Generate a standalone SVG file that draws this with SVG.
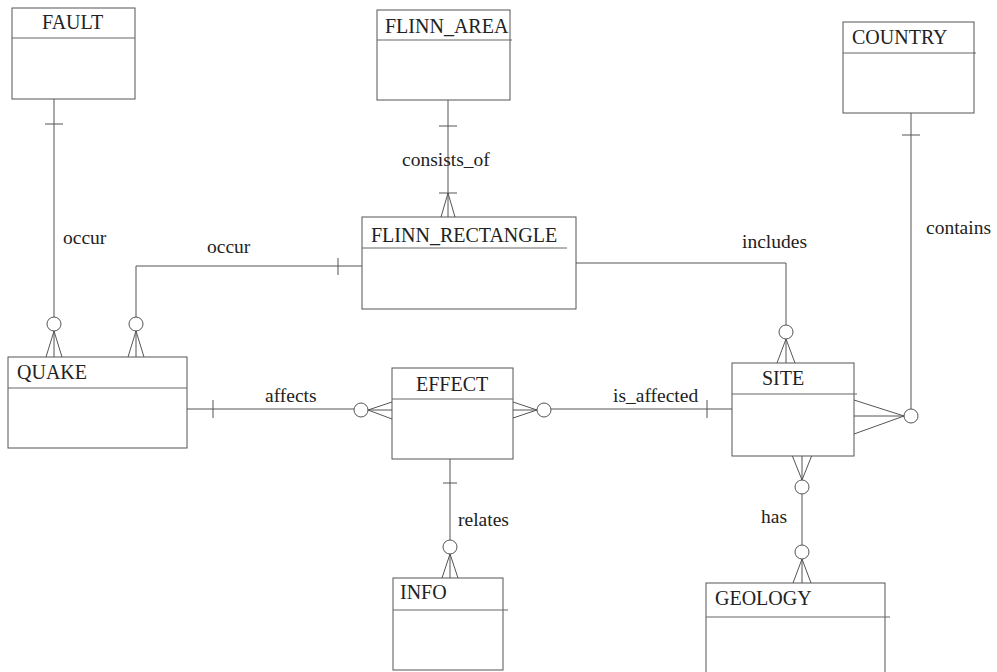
<svg xmlns="http://www.w3.org/2000/svg" width="997" height="672" viewBox="0 0 997 672">
<style>
.box{fill:#fff;stroke:#555;stroke-width:1}
.div{stroke:#666;stroke-width:1;fill:none}
.ln{stroke:#555;stroke-width:1;fill:none}
.ck{fill:#fff;stroke:#555;stroke-width:1}
.t{font-family:"Liberation Serif","Times New Roman",serif;font-size:20px;fill:#222}
.l{font-family:"Liberation Serif","Times New Roman",serif;font-size:19.5px;fill:#222}
</style>
<rect width="997" height="672" fill="#fff"/>
<g id="connectors">
  <!-- FAULT - QUAKE occur -->
  <path class="ln" d="M54,99 V317 M45,124 H63 M54,331 L46,357 M54,331 V357 M54,331 L62,357"/>
  <circle class="ck" cx="54" cy="324" r="7"/>
  <text class="l" x="63" y="244">occur</text>
  <!-- FLINN_RECTANGLE - QUAKE occur -->
  <path class="ln" d="M362,266 H136 V317 M338,258 V275 M136,331 L128,357 M136,331 V357 M136,331 L144,357"/>
  <circle class="ck" cx="136" cy="324" r="7"/>
  <text class="l" x="207" y="253">occur</text>
  <!-- FLINN_AREA - FLINN_RECTANGLE consists_of -->
  <path class="ln" d="M448,100 V217 M439,126 H457 M439,193 H457 M448,193 L441,217 M448,193 L455,217"/>
  <text class="l" x="402" y="166">consists_of</text>
  <!-- FLINN_RECTANGLE - SITE includes -->
  <path class="ln" d="M576,263 H786 V325 M786,339 L777,363 M786,339 V363 M786,339 L795,363"/>
  <circle class="ck" cx="786" cy="332" r="7"/>
  <text class="l" x="742" y="248">includes</text>
  <!-- COUNTRY - SITE contains -->
  <path class="ln" d="M911,113 V409 M902,135 H920 M904,416 L854,400 M904,416 H854 M904,416 L854,434"/>
  <circle class="ck" cx="911" cy="416" r="7"/>
  <text class="l" x="926" y="234">contains</text>
  <!-- QUAKE - EFFECT affects -->
  <path class="ln" d="M187,409 H354 M213,400 V418 M368,410 L392,402 M368,410 H392 M368,410 L392,419"/>
  <circle class="ck" cx="361" cy="410" r="7"/>
  <text class="l" x="265" y="402">affects</text>
  <!-- EFFECT - SITE is_affected -->
  <path class="ln" d="M551,409 H732 M707,400 V418 M537,410 L513,402 M537,410 H513 M537,410 L513,418"/>
  <circle class="ck" cx="544" cy="410" r="7"/>
  <text class="l" x="613" y="402">is_affected</text>
  <!-- EFFECT - INFO relates -->
  <path class="ln" d="M450,459 V540 M443,483 H457 M450,554 L442,578 M450,554 V578 M450,554 L458,578"/>
  <circle class="ck" cx="450" cy="547" r="7"/>
  <text class="l" x="458" y="526">relates</text>
  <!-- SITE - GEOLOGY has -->
  <path class="ln" d="M792,455 L802,480 M802,455 V480 M812,455 L802,480 M802,494 V545 M802,559 L793,583 M802,559 V583 M802,559 L811,583"/>
  <circle class="ck" cx="802" cy="487" r="7"/>
  <circle class="ck" cx="802" cy="552" r="7"/>
  <text class="l" x="761" y="523">has</text>
</g>
<g id="FAULT">
  <rect class="box" x="12" y="8" width="123" height="91"/>
  <path class="div" d="M12,38 H135"/>
  <text class="t" x="42" y="29">FAULT</text>
</g>
<g id="FLINN_AREA">
  <rect class="box" x="377" y="10" width="133" height="90"/>
  <path class="div" d="M377,40 H512"/>
  <text class="t" x="385" y="33">FLINN_AREA</text>
</g>
<g id="COUNTRY">
  <rect class="box" x="843" y="22" width="131" height="91"/>
  <path class="div" d="M843,53 H976"/>
  <text class="t" x="852" y="44">COUNTRY</text>
</g>
<g id="FLINN_RECTANGLE">
  <rect class="box" x="362" y="217" width="214" height="92"/>
  <path class="div" d="M362,248 H567"/>
  <text class="t" x="371" y="242">FLINN_RECTANGLE</text>
</g>
<g id="QUAKE">
  <rect class="box" x="8" y="357" width="179" height="91"/>
  <path class="div" d="M8,388 H187"/>
  <text class="t" x="17" y="379">QUAKE</text>
</g>
<g id="EFFECT">
  <rect class="box" x="392" y="368" width="121" height="91"/>
  <path class="div" d="M392,399 H513"/>
  <text class="t" x="416" y="391">EFFECT</text>
</g>
<g id="SITE">
  <rect class="box" x="732" y="363" width="122" height="93"/>
  <path class="div" d="M732,394 H857"/>
  <text class="t" x="762" y="385">SITE</text>
</g>
<g id="INFO">
  <rect class="box" x="393" y="578" width="110" height="92"/>
  <path class="div" d="M393,610 H508"/>
  <text class="t" x="400" y="599">INFO</text>
</g>
<g id="GEOLOGY">
  <rect class="box" x="706" y="583" width="179" height="95"/>
  <path class="div" d="M706,617 H890"/>
  <text class="t" x="715" y="605">GEOLOGY</text>
</g>
</svg>
